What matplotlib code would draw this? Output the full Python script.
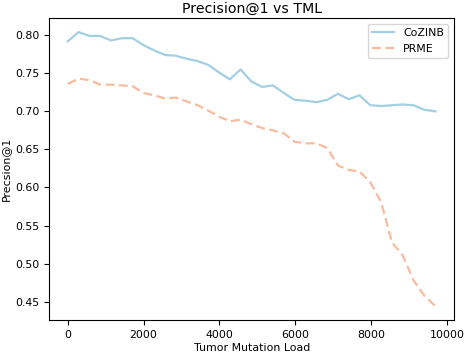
import matplotlib
matplotlib.use('Agg')
import matplotlib.pyplot as plt

# tumor mutation load thresholds
tml = [0, 285, 570, 855, 1140, 1425, 1710, 1995, 2280, 2565,
       2850, 3135, 3420, 3705, 3990, 4275, 4560, 4845, 5130, 5415,
       5700, 5985, 6270, 6555, 6840, 7125, 7410, 7695, 7980, 8265,
       8550, 8835, 9120, 9405, 9700]

cozinb = [0.792, 0.804, 0.799, 0.799, 0.793, 0.796, 0.796, 0.787, 0.780, 0.774,
          0.773, 0.769, 0.766, 0.761, 0.751, 0.742, 0.755, 0.739, 0.732, 0.734,
          0.724, 0.715, 0.714, 0.712, 0.715, 0.723, 0.716, 0.721, 0.708, 0.707,
          0.708, 0.709, 0.708, 0.702, 0.700]

prme = [0.736, 0.743, 0.741, 0.735, 0.735, 0.734, 0.733, 0.724, 0.721, 0.717,
        0.718, 0.713, 0.708, 0.701, 0.693, 0.687, 0.689, 0.683, 0.678, 0.675,
        0.671, 0.660, 0.658, 0.658, 0.652, 0.629, 0.623, 0.621, 0.607, 0.581,
        0.528, 0.511, 0.478, 0.458, 0.444]

plt.rcParams['font.size'] = 7.9

fig = plt.figure(figsize=(4.66, 3.54), dpi=100)
ax = fig.add_axes([0.106, 0.096, 0.868, 0.852])

ax.plot(tml, cozinb, color='#a3cfe4', lw=1.6, label='CoZINB')
ax.plot(tml, prme, color='#f9bb9c', lw=1.6, ls='--', dashes=(4, 2),
        label='PRME')

ax.set_xticks([0, 2000, 4000, 6000, 8000, 10000])
ax.set_yticks([0.45, 0.50, 0.55, 0.60, 0.65, 0.70, 0.75, 0.80])
ax.set_xlabel('Tumor Mutation Load', labelpad=2)
ax.set_ylabel('Precsion@1', labelpad=3)
ax.set_title('Precision@1 vs TML', fontsize=10.2, pad=4)
ax.legend(loc='upper right')

fig.savefig('out.png', dpi=100)
